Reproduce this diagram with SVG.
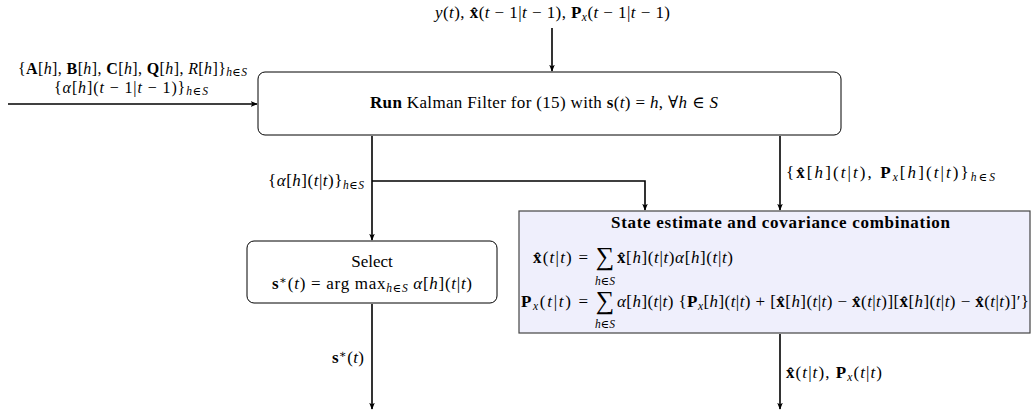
<svg xmlns="http://www.w3.org/2000/svg" width="1033" height="414" viewBox="0 0 1033 414">
<style>
text{font-family:"Liberation Serif","DejaVu Serif",serif;font-size:17px;fill:#000}
.i{font-style:italic}
.b{font-weight:bold}
.s{font-size:11.5px}
.m{text-anchor:middle}
.e{text-anchor:end}
.box{fill:#fff;stroke:#000;stroke-width:1}
.st{fill:#efeffc;stroke:#444;stroke-width:1.2}
.ln{fill:none;stroke:#000;stroke-width:1.6}
</style>
<defs>
<marker id="ar" viewBox="0 0 10 10" refX="9" refY="5" markerWidth="7" markerHeight="7" orient="auto" markerUnits="userSpaceOnUse">
<path d="M0,1 L10,5 L0,9 L2.5,5 Z" fill="#000"/>
</marker>
</defs>
<rect width="1033" height="414" fill="#fff"/>

<g id="connectors">
<path class="ln" d="M552,28 V71" marker-end="url(#ar)"/>
<path class="ln" d="M8,104 H257" marker-end="url(#ar)"/>
<path class="ln" d="M372,136 V240" marker-end="url(#ar)"/>
<path class="ln" d="M372,181 H645 V210" marker-end="url(#ar)"/>
<path class="ln" d="M780,136 V210" marker-end="url(#ar)"/>
<path class="ln" d="M372,304 V409" marker-end="url(#ar)"/>
<path class="ln" d="M780,334 V409" marker-end="url(#ar)"/>
</g>

<g id="labels">
<text x="435" y="18" textLength="235" lengthAdjust="spacing"><tspan class="i">y</tspan>(<tspan class="i">t</tspan>), <tspan class="b">x̂</tspan>(<tspan class="i">t</tspan> − 1|<tspan class="i">t</tspan> − 1), <tspan class="b">P</tspan><tspan class="i s" dy="3">x</tspan><tspan dy="-3">(</tspan><tspan class="i">t</tspan> − 1|<tspan class="i">t</tspan> − 1)</text>
<text x="18" y="74" textLength="229" lengthAdjust="spacing" style="font-size:16px">{<tspan class="b">A</tspan>[<tspan class="i">h</tspan>], <tspan class="b">B</tspan>[<tspan class="i">h</tspan>], <tspan class="b">C</tspan>[<tspan class="i">h</tspan>], <tspan class="b">Q</tspan>[<tspan class="i">h</tspan>], <tspan class="i">R</tspan>[<tspan class="i">h</tspan>]}<tspan class="i s" dy="2">h</tspan><tspan class="s">∈</tspan><tspan class="i s">S</tspan></text>
<text x="54" y="93" textLength="154" lengthAdjust="spacing" style="font-size:16px">{<tspan class="i">α</tspan>[<tspan class="i">h</tspan>](<tspan class="i">t</tspan> − 1|<tspan class="i">t</tspan> − 1)}<tspan class="i s" dy="2">h</tspan><tspan class="s">∈</tspan><tspan class="i s">S</tspan></text>
<text x="268" y="186" textLength="96" lengthAdjust="spacing">{<tspan class="i">α</tspan>[<tspan class="i">h</tspan>](<tspan class="i">t</tspan>|<tspan class="i">t</tspan>)}<tspan class="i s" dy="3">h</tspan><tspan class="s">∈</tspan><tspan class="i s">S</tspan></text>
<text x="786" y="178" textLength="209" lengthAdjust="spacing">{<tspan class="b">x̂</tspan>[<tspan class="i">h</tspan>](<tspan class="i">t</tspan>|<tspan class="i">t</tspan>), <tspan class="b">P</tspan><tspan class="i s" dy="3">x</tspan><tspan dy="-3">[</tspan><tspan class="i">h</tspan>](<tspan class="i">t</tspan>|<tspan class="i">t</tspan>)}<tspan class="i s" dy="3">h</tspan><tspan class="s">∈</tspan><tspan class="i s">S</tspan></text>
<text x="332" y="363" textLength="32" lengthAdjust="spacing"><tspan class="b">s</tspan><tspan class="s" dy="-5">∗</tspan><tspan dy="5">(</tspan><tspan class="i">t</tspan>)</text>
<text x="786" y="378" textLength="96" lengthAdjust="spacing"><tspan class="b">x̂</tspan>(<tspan class="i">t</tspan>|<tspan class="i">t</tspan>), <tspan class="b">P</tspan><tspan class="i s" dy="3">x</tspan><tspan dy="-3">(</tspan><tspan class="i">t</tspan>|<tspan class="i">t</tspan>)</text>
</g>

<g id="kalman">
<rect class="box" x="258" y="72" width="583" height="63" rx="7"/>
<text x="370" y="108" textLength="348" lengthAdjust="spacing"><tspan class="b">Run</tspan> Kalman Filter for (15) with <tspan class="b">s</tspan>(<tspan class="i">t</tspan>) = <tspan class="i">h</tspan>, ∀<tspan class="i">h</tspan> ∈ <tspan class="i">S</tspan></text>
</g>

<g id="select">
<rect class="box" x="247" y="241" width="250" height="62" rx="7"/>
<text class="m" x="372" y="267">Select</text>
<text x="272" y="289" textLength="200" lengthAdjust="spacing"><tspan class="b">s</tspan><tspan class="s" dy="-5">∗</tspan><tspan dy="5">(</tspan><tspan class="i">t</tspan>)  = arg max<tspan class="i s" dy="3">h</tspan><tspan class="s">∈</tspan><tspan class="i s">S</tspan><tspan dy="-3"> </tspan><tspan class="i">α</tspan>[<tspan class="i">h</tspan>](<tspan class="i">t</tspan>|<tspan class="i">t</tspan>)</text>
</g>

<g id="combination">
<rect class="st" x="519" y="211" width="511" height="122"/>
<text class="b" x="611" y="228" textLength="339" lengthAdjust="spacing">State estimate and covariance combination</text>
<text x="533" y="263" textLength="55" lengthAdjust="spacing"><tspan class="b">x̂</tspan>(<tspan class="i">t</tspan>|<tspan class="i">t</tspan>) =</text>
<text class="m" x="605" y="265" style="font-size:26px">∑</text>
<text class="m s" x="605" y="285"><tspan class="i">h</tspan>∈<tspan class="i">S</tspan></text>
<text x="617" y="263" textLength="116" lengthAdjust="spacing"><tspan class="b">x̂</tspan>[<tspan class="i">h</tspan>](<tspan class="i">t</tspan>|<tspan class="i">t</tspan>)<tspan class="i">α</tspan>[<tspan class="i">h</tspan>](<tspan class="i">t</tspan>|<tspan class="i">t</tspan>)</text>
<text x="521" y="307" textLength="67" lengthAdjust="spacing"><tspan class="b">P</tspan><tspan class="i s" dy="3">x</tspan><tspan dy="-3">(</tspan><tspan class="i">t</tspan>|<tspan class="i">t</tspan>) =</text>
<text class="m" x="605" y="309" style="font-size:26px">∑</text>
<text class="m s" x="605" y="328"><tspan class="i">h</tspan>∈<tspan class="i">S</tspan></text>
<text x="617" y="307" textLength="412" lengthAdjust="spacing"><tspan class="i">α</tspan>[<tspan class="i">h</tspan>](<tspan class="i">t</tspan>|<tspan class="i">t</tspan>) {<tspan class="b">P</tspan><tspan class="i s" dy="3">x</tspan><tspan dy="-3">[</tspan><tspan class="i">h</tspan>](<tspan class="i">t</tspan>|<tspan class="i">t</tspan>) + [<tspan class="b">x̂</tspan>[<tspan class="i">h</tspan>](<tspan class="i">t</tspan>|<tspan class="i">t</tspan>) − <tspan class="b">x̂</tspan>(<tspan class="i">t</tspan>|<tspan class="i">t</tspan>)][<tspan class="b">x̂</tspan>[<tspan class="i">h</tspan>](<tspan class="i">t</tspan>|<tspan class="i">t</tspan>) − <tspan class="b">x̂</tspan>(<tspan class="i">t</tspan>|<tspan class="i">t</tspan>)]′}</text>
</g>
</svg>
